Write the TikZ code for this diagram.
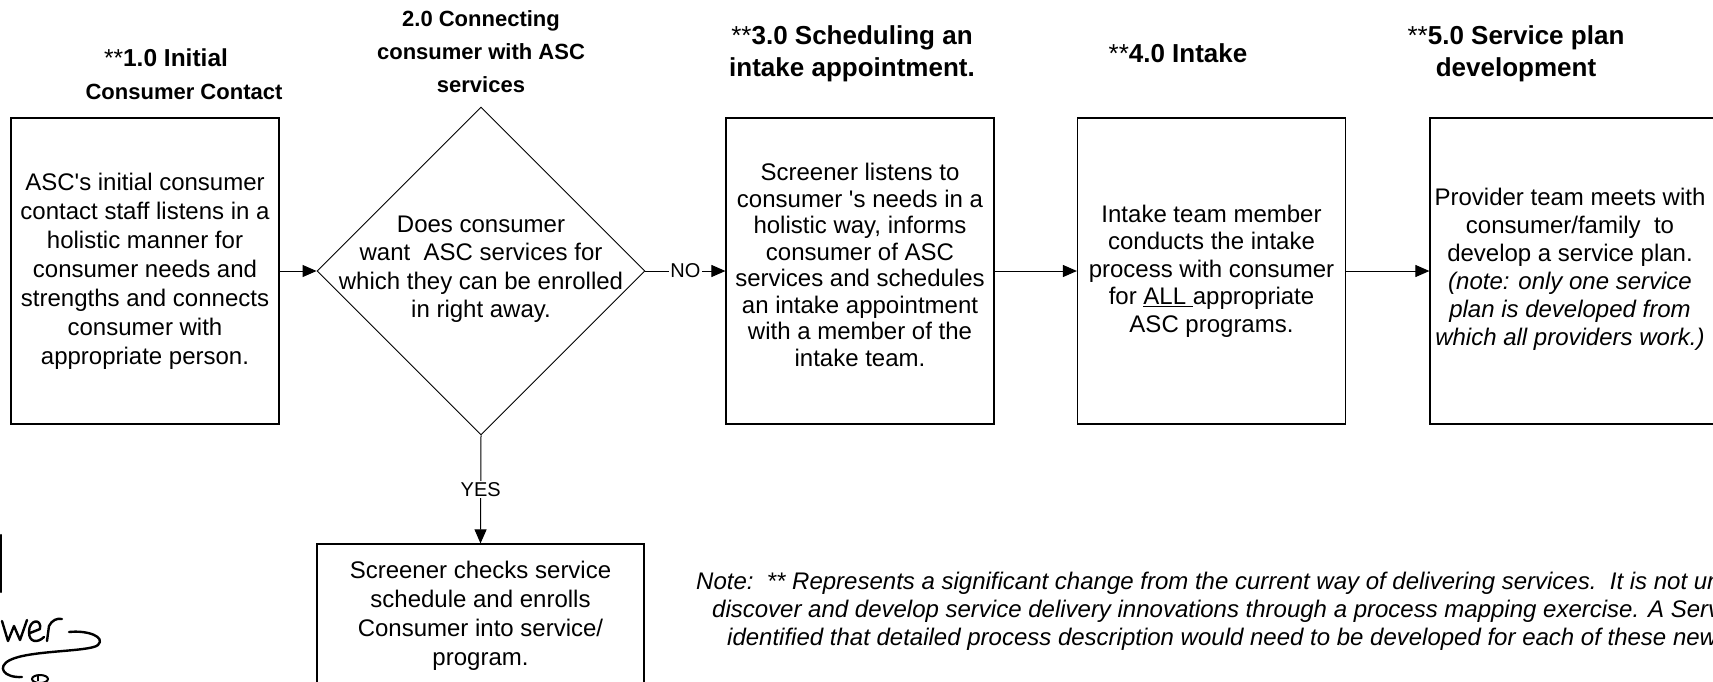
\documentclass[tikz,border=0pt]{standalone}
\usepackage{fontspec}
\setmainfont{Liberation Sans}
\newfontfamily\plainsans{Liberation Sans}
\usetikzlibrary{shapes.geometric,arrows.meta}
\newcommand{\sq}{{\plainsans '}}
\tikzset{
  procbox/.style={draw=black, line width=1.2pt, minimum width=268pt, minimum height=306pt, inner sep=0pt, align=center, font=\fontsize{24}{29}\selectfont},
  heading/.style={align=center, font=\bfseries\fontsize{22}{33}\selectfont},
  bigheading/.style={align=center, font=\bfseries\fontsize{26}{32}\selectfont},
  arr/.style={line width=1pt, -{Triangle[length=14pt,width=12pt]}},
  lbl/.style={fill=white, inner sep=1.5pt, font=\fontsize{20}{24}\selectfont},
  notetxt/.style={anchor=base west, inner sep=0pt, font=\itshape\fontsize{24}{28}\selectfont},
  hand/.style={line width=2.4pt, line cap=round, line join=round}
}
\begin{document}
\begin{tikzpicture}[x=1pt, y=-1pt]
\useasboundingbox (0,0) rectangle (1713,681);

% headings
\node[heading] (h1) at (184,74) {{\fontsize{24.5}{33}\selectfont{\mdseries **}1.0 Initial}\hspace*{36pt}\\Consumer Contact};
\node[heading] (h2) at (481,52) {2.0 Connecting\\consumer with ASC\\services};
\node[bigheading] (h3) at (852,54) {{\mdseries **}3.0 Scheduling an\\intake appointment.};
\node[bigheading] (h4) at (1178,53) {{\mdseries **}4.0 Intake};
\node[bigheading] (h5) at (1516,54) {{\mdseries **}5.0 Service plan\\development};

% boxes
\node[procbox] (b1) at (145,271) {ASC\sq s initial consumer\\contact staff listens in a\\holistic manner for\\consumer needs and\\strengths and connects\\consumer with\\appropriate person.};
\node[diamond, draw=black, line width=0.9pt, minimum width=328pt, minimum height=328pt, inner sep=0pt, aspect=1] (d) at (481,271) {};
\node[align=center, font=\fontsize{24}{28.5}\selectfont] (dt) at (481,269) {Does consumer\\want\ \ ASC services for\\which they can be enrolled\\in right away.};
\node[procbox] (b3) at (860,271) {};
\node[align=center, font=\fontsize{24}{26.5}\selectfont] (b3t) at (860,265) {Screener listens to\\consumer \sq s needs in a\\holistic way, informs\\consumer of ASC\\services and schedules\\an intake appointment\\with a member of the\\intake team.};
\node[procbox, font=\fontsize{24}{27.5}\selectfont] (b4) at (1211.5,271) {Intake team member\\conducts the intake\\process with consumer\\for \underline{ALL\ }appropriate\\ASC programs.};
\node[procbox, minimum width=284pt] (b5) at (1572,271) {};
\node[align=center, font=\fontsize{24}{28}\selectfont] (b5t) at (1570,269) {Provider team meets with\\consumer/family\ \ to\\develop a service plan.\\\itshape (note: only one service\\\itshape plan is developed from\\\itshape which all providers work.)};
\node[procbox, minimum width=327pt, minimum height=143pt] (b6) at (480.5,615.5) {Screener checks service\\schedule and enrolls\\Consumer into service/\\program.};

% connectors
\draw[arr] (b1.east) -- (d.west);
\draw[arr] (d.east) -- node[lbl] {NO} (b3.west);
\draw[arr] (b3.east) -- (b4.west);
\draw[arr] (b4.east) -- (b5.west);
\draw[arr] (d.south) -- node[lbl] {YES} (b6.north);

% note
\node[notetxt] (n1) at (696,589) {Note:\ \ ** Represents a significant change from the current way of delivering services.\ \ It is not unusual};
\node[notetxt] (n2) at (712,617) {discover and develop service delivery innovations through a process mapping exercise. A Service};
\node[notetxt] (n3) at (727,645) {identified that detailed process description would need to be developed for each of these new};

% hand-drawn fragment, bottom left
\draw[hand] (1,535) -- (1,592);
\draw[hand] (2,621) -- (8,641) -- (14,626) -- (20,640) -- (27,620);
\draw[hand] (30,633) -- (40,629) .. controls (42,618) and (29,619) .. (29,632) .. controls (29,643) and (38,643) .. (44,637);
\draw[hand] (47,641) -- (49,626) .. controls (52,620) and (57,618) .. (62,619);
\draw[hand] (69,632) .. controls (88,630) and (106,637) .. (98,645) .. controls (90,652) and (30,650) .. (10,660) .. controls (-4,667) and (4,678) .. (22,677);
\draw[line width=2pt] (40,679) ellipse [x radius=8, y radius=4];
\draw[line width=1.6pt] (38,675) -- (38,681);
\end{tikzpicture}
\end{document}
